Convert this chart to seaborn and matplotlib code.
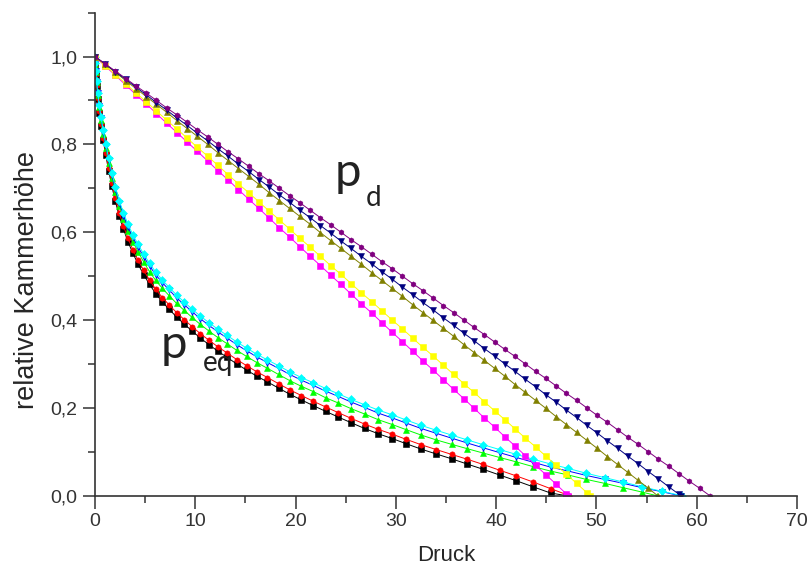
import seaborn as sns
import matplotlib.pyplot as plt
import matplotlib.ticker as mticker
import pandas as pd

# -----------------------
# Data
# -----------------------
# p_eq curves: shared pressure grid, heights per series, end pressure (height 0)
peq_druck = [0, 0.02, 0.07, 0.15, 0.27, 0.42, 0.6, 0.82, 1.08, 1.36, 1.68, 2.03, 2.42, 2.84,
             3.29, 3.78, 4.3, 4.86, 5.44, 6.06, 6.72, 7.41, 8.13, 8.89, 9.68, 10.5, 11.36,
             12.25, 13.17, 14.13, 15.12, 16.14, 17.2, 18.3, 19.42, 20.58, 21.77, 23.0, 24.26,
             25.55, 26.88, 28.24, 29.64, 31.06, 32.52, 34.02, 35.55, 37.11, 38.71, 40.34, 42.0,
             43.7, 45.43, 47.19, 48.99, 50.82, 52.68, 54.58, 56.52]

peq_black = [1.0, 0.98, 0.959, 0.933, 0.903, 0.872, 0.842, 0.809, 0.775, 0.74, 0.705, 0.67,
             0.637, 0.607, 0.578, 0.552, 0.527, 0.503, 0.481, 0.46, 0.441, 0.424, 0.407, 0.391,
             0.375, 0.359, 0.344, 0.329, 0.315, 0.3, 0.286, 0.272, 0.259, 0.245, 0.231, 0.218,
             0.205, 0.192, 0.179, 0.166, 0.153, 0.141, 0.13, 0.118, 0.106, 0.095, 0.084, 0.072,
             0.06, 0.047, 0.034, 0.02, 0.006]
peq_red = [1.0, 0.981, 0.961, 0.936, 0.906, 0.876, 0.846, 0.814, 0.78, 0.746, 0.711, 0.677,
           0.644, 0.614, 0.586, 0.56, 0.536, 0.513, 0.491, 0.47, 0.451, 0.434, 0.417, 0.401,
           0.385, 0.369, 0.354, 0.339, 0.325, 0.31, 0.296, 0.282, 0.269, 0.255, 0.241, 0.228,
           0.215, 0.202, 0.189, 0.176, 0.163, 0.151, 0.14, 0.128, 0.116, 0.105, 0.094, 0.083,
           0.071, 0.058, 0.045, 0.031, 0.016]
peq_green = [1.0, 0.983, 0.964, 0.941, 0.913, 0.884, 0.855, 0.824, 0.791, 0.758, 0.724, 0.691,
             0.659, 0.63, 0.603, 0.578, 0.555, 0.532, 0.51, 0.49, 0.472, 0.455, 0.438, 0.422,
             0.406, 0.39, 0.375, 0.36, 0.346, 0.331, 0.317, 0.303, 0.29, 0.276, 0.262, 0.249,
             0.237, 0.223, 0.211, 0.198, 0.186, 0.173, 0.162, 0.15, 0.138, 0.127, 0.117, 0.107,
             0.097, 0.087, 0.077, 0.066, 0.056, 0.047, 0.037, 0.028, 0.018, 0.008]
peq_blue = [1.0, 0.984, 0.966, 0.943, 0.916, 0.887, 0.859, 0.828, 0.796, 0.764, 0.73, 0.698,
            0.667, 0.638, 0.612, 0.588, 0.566, 0.544, 0.523, 0.503, 0.485, 0.468, 0.451, 0.435,
            0.419, 0.403, 0.388, 0.373, 0.359, 0.344, 0.33, 0.316, 0.303, 0.29, 0.276, 0.263,
            0.251, 0.238, 0.226, 0.213, 0.201, 0.188, 0.177, 0.165, 0.153, 0.142, 0.131, 0.12,
            0.109, 0.098, 0.087, 0.076, 0.065, 0.056, 0.046, 0.037, 0.028, 0.018, 0.009]
peq_cyan = [1.0, 0.985, 0.967, 0.945, 0.918, 0.89, 0.862, 0.832, 0.8, 0.768, 0.735, 0.703,
            0.672, 0.644, 0.618, 0.594, 0.572, 0.55, 0.529, 0.509, 0.491, 0.474, 0.457, 0.441,
            0.425, 0.409, 0.394, 0.379, 0.365, 0.35, 0.336, 0.322, 0.309, 0.296, 0.282, 0.269,
            0.257, 0.244, 0.232, 0.219, 0.207, 0.195, 0.184, 0.172, 0.16, 0.149, 0.138, 0.127,
            0.116, 0.105, 0.094, 0.083, 0.072, 0.062, 0.051, 0.041, 0.031, 0.02, 0.01]
peq_end = [47.0, 47.3, 56.0, 58.3, 58.5]

# p_d lines: shared pressure grid, heights per series, end pressure (height 0)
pd_druck = [0, 1.02, 2.04, 3.07, 4.09, 5.11, 6.13, 7.15, 8.17, 9.2, 10.22, 11.24, 12.26, 13.28,
            14.3, 15.33, 16.35, 17.37, 18.39, 19.41, 20.43, 21.46, 22.48, 23.5, 24.52, 25.54,
            26.56, 27.59, 28.61, 29.63, 30.65, 31.67, 32.69, 33.72, 34.74, 35.76, 36.78, 37.8,
            38.82, 39.85, 40.87, 41.89, 42.91, 43.93, 44.95, 45.98, 47.0, 48.02, 49.04, 50.06,
            51.09, 52.11, 53.13, 54.15, 55.17, 56.19, 57.22, 58.24, 59.26, 60.28]

pd_magenta = [1.0, 0.978, 0.957, 0.935, 0.913, 0.892, 0.87, 0.848, 0.827, 0.805, 0.784, 0.762,
              0.74, 0.719, 0.697, 0.675, 0.654, 0.632, 0.61, 0.589, 0.567, 0.545, 0.524, 0.502,
              0.481, 0.459, 0.437, 0.416, 0.394, 0.372, 0.351, 0.329, 0.307, 0.286, 0.264,
              0.242, 0.221, 0.199, 0.177, 0.156, 0.134, 0.113, 0.091, 0.069, 0.048, 0.026, 0.004]
pd_yellow = [1.0, 0.979, 0.959, 0.938, 0.917, 0.897, 0.876, 0.855, 0.835, 0.814, 0.793, 0.773,
             0.752, 0.731, 0.71, 0.69, 0.669, 0.648, 0.628, 0.607, 0.586, 0.566, 0.545, 0.524,
             0.504, 0.483, 0.462, 0.442, 0.421, 0.4, 0.38, 0.359, 0.338, 0.318, 0.297, 0.276,
             0.255, 0.235, 0.214, 0.193, 0.173, 0.152, 0.131, 0.111, 0.09, 0.069, 0.049, 0.028,
             0.007]
pd_olive = [1.0, 0.982, 0.964, 0.945, 0.927, 0.909, 0.891, 0.873, 0.854, 0.836, 0.818, 0.8,
            0.781, 0.763, 0.745, 0.727, 0.709, 0.69, 0.672, 0.654, 0.636, 0.618, 0.599, 0.581,
            0.563, 0.545, 0.527, 0.508, 0.49, 0.472, 0.454, 0.435, 0.417, 0.399, 0.381, 0.363,
            0.344, 0.326, 0.308, 0.29, 0.272, 0.253, 0.235, 0.217, 0.199, 0.18, 0.162, 0.144,
            0.126, 0.108, 0.089, 0.071, 0.053, 0.035, 0.017]
pd_navy = [1.0, 0.983, 0.965, 0.948, 0.93, 0.913, 0.895, 0.878, 0.86, 0.843, 0.825, 0.808,
           0.79, 0.773, 0.755, 0.738, 0.72, 0.703, 0.685, 0.668, 0.65, 0.633, 0.615, 0.598,
           0.58, 0.563, 0.545, 0.528, 0.51, 0.493, 0.475, 0.458, 0.44, 0.423, 0.405, 0.388,
           0.37, 0.353, 0.335, 0.318, 0.3, 0.283, 0.265, 0.248, 0.23, 0.213, 0.195, 0.178,
           0.16, 0.143, 0.125, 0.108, 0.09, 0.073, 0.055, 0.038, 0.02, 0.003]
pd_purple = [1.0, 0.983, 0.967, 0.95, 0.933, 0.917, 0.9, 0.883, 0.867, 0.85, 0.833, 0.817,
             0.8, 0.783, 0.767, 0.75, 0.733, 0.717, 0.7, 0.683, 0.667, 0.65, 0.633, 0.617,
             0.6, 0.583, 0.567, 0.55, 0.533, 0.517, 0.5, 0.483, 0.467, 0.45, 0.433, 0.417,
             0.4, 0.383, 0.367, 0.35, 0.333, 0.317, 0.3, 0.283, 0.267, 0.25, 0.233, 0.217,
             0.2, 0.183, 0.167, 0.15, 0.133, 0.117, 0.1, 0.083, 0.067, 0.05, 0.033, 0.017]
pd_end = [47.2, 49.4, 56.1, 58.4, 61.3]

# series names, colours, markers (draw order)
serien = ["eq1", "eq2", "eq3", "eq4", "eq5", "d1", "d2", "d3", "d4", "d5"]
farben = ["#000000", "#FF0000", "#00FF00", "#0000FF", "#00FFFF",
          "#FF00FF", "#FFFF00", "#808000", "#000080", "#800080"]
marker = ["s", "o", "^", "v", "D", "s", "s", "^", "v", "h"]

# -----------------------
# Build long table
# -----------------------
rows = []
reihen = list(zip(["eq1", "eq2", "eq3", "eq4", "eq5"],
                  [peq_black, peq_red, peq_green, peq_blue, peq_cyan], peq_end))
for name, hoehe, ende in reihen:
    for x, y in zip(peq_druck[:len(hoehe)] + [ende], hoehe + [0.0]):
        rows.append([name, x, y])
reihen = list(zip(["d1", "d2", "d3", "d4", "d5"],
                  [pd_magenta, pd_yellow, pd_olive, pd_navy, pd_purple], pd_end))
for name, hoehe, ende in reihen:
    for x, y in zip(pd_druck[:len(hoehe)] + [ende], hoehe + [0.0]):
        rows.append([name, x, y])
df = pd.DataFrame(rows, columns=["Serie", "Druck", "Hoehe"])

# -----------------------
# Plot
# -----------------------
sns.set_style("ticks")
plt.rcParams["font.family"] = ["Liberation Sans", "DejaVu Sans"]

fig = plt.figure(figsize=(8.12, 5.75), dpi=100)
ax = fig.add_axes([0.117, 0.138, 0.8645, 0.840])

sns.lineplot(
    data=df, x="Druck", y="Hoehe", hue="Serie", style="Serie",
    hue_order=serien, style_order=serien,
    palette=dict(zip(serien, farben)), markers=dict(zip(serien, marker)),
    dashes=False, sort=False, estimator=None, legend=False,
    lw=0.7, markersize=3.8, markeredgewidth=0.4, markeredgecolor=None, ax=ax
)

ax.set_xlim(0, 70)
ax.set_ylim(0, 1.1)
ax.xaxis.set_major_locator(mticker.MultipleLocator(10))
ax.xaxis.set_minor_locator(mticker.MultipleLocator(5))
ax.yaxis.set_major_locator(mticker.MultipleLocator(0.2))
ax.yaxis.set_minor_locator(mticker.MultipleLocator(0.1))
ax.yaxis.set_major_formatter(mticker.FuncFormatter(lambda v, p: f"{v:.1f}".replace(".", ",")))
ax.tick_params(which="major", length=9, width=1.1, direction="out", labelsize=14, colors="#333333")
ax.tick_params(which="minor", length=4.8, width=1.1, direction="out", colors="#333333")
for s in ["top", "right"]:
    ax.spines[s].set_visible(False)
for s in ["left", "bottom"]:
    ax.spines[s].set_linewidth(1.2)
    ax.spines[s].set_color("#333333")

ax.set_xlabel("Druck", fontsize=16, labelpad=11)
ax.set_ylabel("relative Kammerhöhe", fontsize=19.5)
ax.yaxis.set_label_coords(-0.078, 0.447)

# curve annotations: p with subscript
txt = dict(color="#222222", ha="left", va="baseline", family=["Lato", "DejaVu Sans"])
ax.text(23.9, 0.705, "p", fontsize=34, **txt)
ax.text(27.0, 0.66, "d", fontsize=20, **txt)
ax.text(6.5, 0.313, "p", fontsize=34, **txt)
ax.text(10.8, 0.285, "eq", fontsize=20, **txt)

plt.savefig("out.png", dpi=100)
